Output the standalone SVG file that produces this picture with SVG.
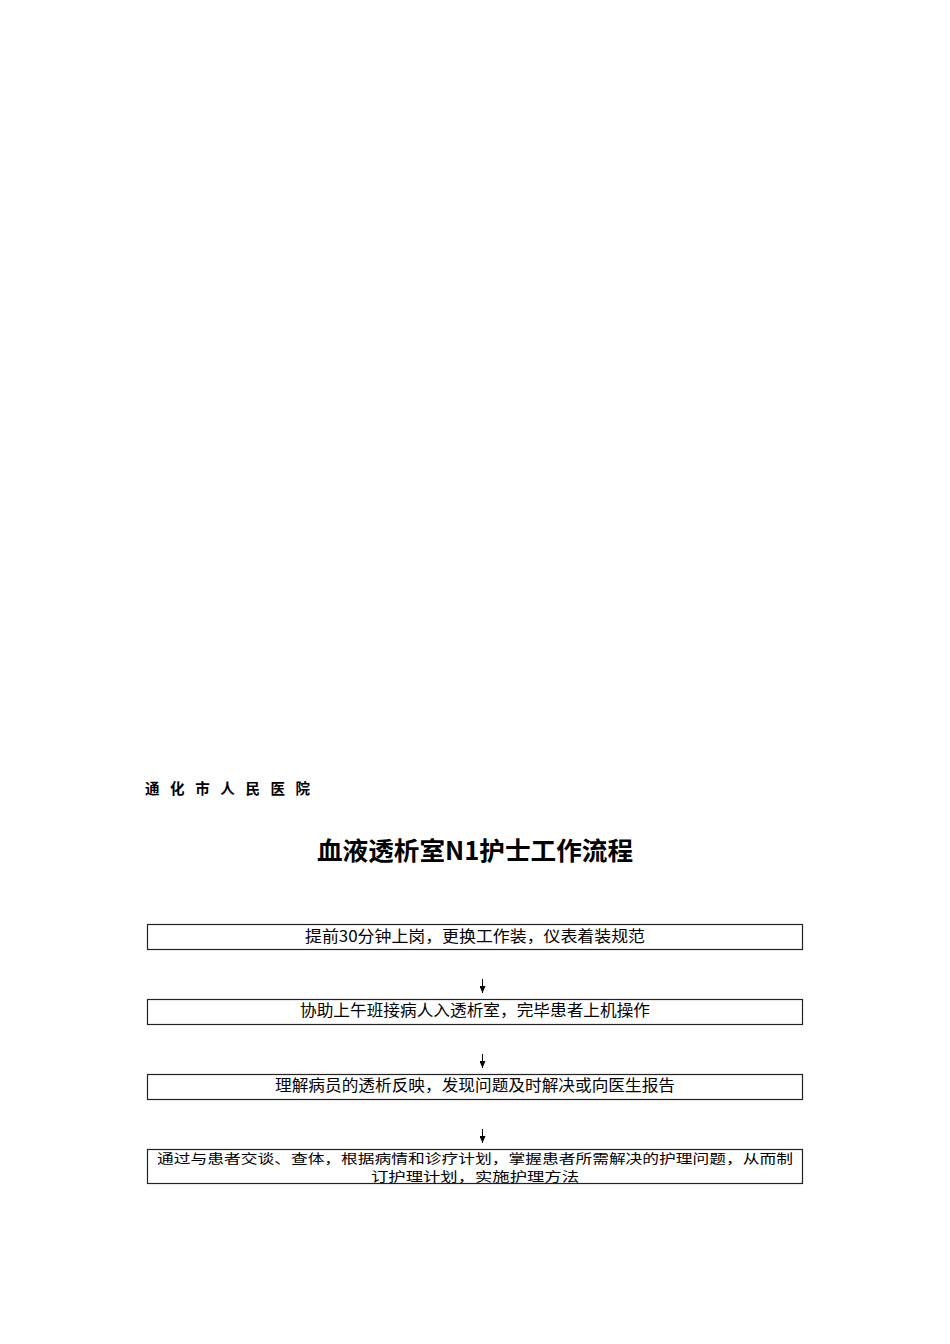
<svg xmlns="http://www.w3.org/2000/svg" width="950" height="1344" viewBox="0 0 950 1344">
<style>
.t{font-family:"Noto Sans CJK SC","Noto Sans",sans-serif;fill:#000}
.box{fill:#fff;stroke:#222;stroke-width:1.2}
.lbl{font-size:15.5px;text-anchor:middle}
.lbl2{font-size:13px;text-anchor:middle}
.conn{stroke:#000;stroke-width:1;fill:none}
</style>
<defs>
<marker id="ad" markerWidth="6" markerHeight="7" refX="3" refY="7" orient="0" markerUnits="userSpaceOnUse" viewBox="0 0 6 7">
<path d="M0,0 L6,0 L3,7 Z" fill="#000"/>
</marker>
</defs>
<rect width="950" height="1344" fill="#fff"/>
<text class="t" x="145" y="794" font-size="14.5" font-weight="bold" letter-spacing="10.6">通化市人民医院</text>
<text class="t" x="475" y="860" font-size="25.5" font-weight="bold" text-anchor="middle" textLength="316" lengthAdjust="spacingAndGlyphs">血液透析室N1护士工作流程</text>
<g id="connectors">
<line class="conn" x1="482.5" y1="979" x2="482.5" y2="993" marker-end="url(#ad)"/>
<line class="conn" x1="482.5" y1="1054" x2="482.5" y2="1068" marker-end="url(#ad)"/>
<line class="conn" x1="482.5" y1="1129" x2="482.5" y2="1143" marker-end="url(#ad)"/>
</g>
<g id="n1">
<rect class="box" x="147.5" y="924.5" width="655" height="25"/>
<text class="t lbl" x="475" y="942" textLength="340" lengthAdjust="spacingAndGlyphs">提前30分钟上岗，更换工作装，仪表着装规范</text>
</g>
<g id="n2">
<rect class="box" x="147.5" y="999.5" width="655" height="25"/>
<text class="t lbl" x="475" y="1016" textLength="350" lengthAdjust="spacingAndGlyphs">协助上午班接病人入透析室，完毕患者上机操作</text>
</g>
<g id="n3">
<rect class="box" x="147.5" y="1074.5" width="655" height="25"/>
<text class="t lbl" x="475" y="1091" textLength="400" lengthAdjust="spacingAndGlyphs">理解病员的透析反映，发现问题及时解决或向医生报告</text>
</g>
<g id="n4">
<rect class="box" x="147.5" y="1149.5" width="655" height="34"/>
<text class="t lbl2" x="475" y="1163" textLength="636" lengthAdjust="spacingAndGlyphs">通过与患者交谈、查体，根据病情和诊疗计划，掌握患者所需解决的护理问题，从而制</text>
<text class="t lbl2" x="475" y="1181" textLength="208" lengthAdjust="spacingAndGlyphs">订护理计划，实施护理方法</text>
</g>
</svg>
